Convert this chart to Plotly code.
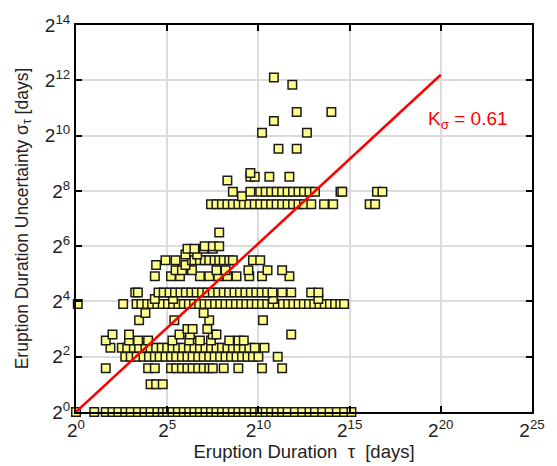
import plotly.graph_objects as go
import math

# ---- data (tau = eruption duration [days], sigma = uncertainty [days]) ----
row_sigma = [1, 2, 3, 4, 5, 6, 7, 8, 10, 12, 15, 17, 20, 30, 35, 40, 45, 52, 60, 64, 90,
             183, 223, 250, 331, 364, 401, 734, 1097, 1479, 1845, 3665, 4390]

tau_rows = [
    [1, 2, 3.1, 4, 5, 6.5, 8, 10.5, 13.5, 17, 22, 27, 32, 39, 48, 60, 74, 90, 111, 137, 169, 208,
     256, 315, 388, 478, 588, 724, 891, 1097, 1351, 1663, 2048, 2521, 3104, 4096, 5405, 7131,
     8780, 11585, 15287, 20171, 26616, 35120],
    [17, 21, 27],
    [3.1, 15.5, 20, 37, 45, 56, 69, 84, 104, 128, 158, 181, 274, 478, 1176, 2521],
    [6.5, 8, 10, 13, 16, 20, 24, 30, 37, 45, 56, 69, 84, 104, 128, 158, 194, 239, 294, 362, 446,
     549, 676, 832, 1024, 2135],
    [3.7, 5.7, 7, 9, 11, 14, 17, 21, 26, 32, 39, 48, 59, 73, 90, 111, 137, 169, 208, 256, 315,
     388, 478, 588, 724, 891, 1290],
    [3.1, 7.5, 10.6, 15.5, 39, 74, 111, 169, 338, 480, 588],
    [4, 7.5, 51, 76, 181, 208, 3565],
    [69, 84, 147],
    [11, 42, 158, 1218],
    [14, 128],
    [1.07, 6, 10, 12, 15, 18, 22, 27, 33, 40, 49, 60, 73, 89, 108, 132, 161, 197, 240, 293, 357,
     436, 531, 648, 790, 963, 1175, 1433, 1748, 2131, 2600, 3170, 3867, 4716, 5751, 7014, 8554,
     10432, 12722, 15516, 18922, 23000, 26600],
    [20, 40, 1780, 10000],
    [9.5, 10.5, 23, 28, 35, 43, 53, 65, 80, 98, 120, 147, 181, 222, 274, 336, 413, 508, 624, 768,
     943, 1159, 1425, 1750, 2520, 3565, 7600, 10000],
    [20, 37, 52, 111, 158, 223, 315, 446, 724, 1176, 3327],
    [44, 56, 82, 208, 294, 700, 1448, 2521],
    [21, 64],
    [30, 44, 82, 90, 111, 133, 158, 194, 231, 274, 338, 388, 832, 1097],
    [64, 100],
    [69, 90, 128, 181],
    [133, 181, 231],
    [231],
    [169, 208, 256, 315, 388, 478, 588, 724, 891, 1097, 1351, 1663, 2048, 2521, 3104, 3822,
     4705, 5793, 7643, 12417, 17560, 70240, 86475],
    [549],
    [388, 755, 1097, 1351, 1663, 2048, 2521, 3104, 3822, 4705, 5793, 7131, 8780, 23170, 24834,
     92682, 114104],
    [315],
    [755, 891, 1552, 3327],
    [755],
    [2195, 4390],
    [1176, 6472],
    [1845],
    [4390, 16384],
    [3717],
    [1845],
]

K_sigma = 0.61
fit_tau = [1, 1048576]

x_tick_exp = [0, 5, 10, 15, 20, 25]
y_tick_exp = [0, 2, 4, 6, 8, 10, 12, 14]

# ---- build ----
tau = []
sigma = []
for s, row in zip(row_sigma, tau_rows):
    tau.extend(row)
    sigma.extend([s] * len(row))

fit_sigma = [t ** K_sigma for t in fit_tau]

FONT = "Liberation Sans, Arial"

fig = go.Figure()
fig.add_trace(go.Scatter(
    x=tau, y=sigma, mode="markers", cliponaxis=False,
    marker=dict(symbol="square", size=8.5, color="#ffff88",
                line=dict(color="#1a1a1a", width=1.5)),
    showlegend=False))
fig.add_trace(go.Scatter(
    x=fit_tau, y=fit_sigma, mode="lines", cliponaxis=False,
    line=dict(color="#ff0000", width=2.5), showlegend=False))

fig.add_annotation(
    x=math.log10(2 ** 19.2), y=math.log10(2 ** 10.55), xref="x", yref="y",
    text="K<sub>σ</sub> = 0.61", showarrow=False, xanchor="left", yanchor="middle",
    font=dict(color="#ff0000", size=19, family=FONT))

axis_common = dict(
    type="log", showgrid=True, gridcolor="#dcdcdc", gridwidth=1.5,
    showline=True, linecolor="black", linewidth=2, mirror="ticks",
    ticks="inside", ticklen=6, tickwidth=2, tickcolor="black",
    zeroline=False, tickfont=dict(size=19, color="#222", family=FONT),
)

fig.update_xaxes(
    **axis_common,
    range=[0, 25 * math.log10(2)],
    tickmode="array",
    tickvals=[2 ** e for e in x_tick_exp],
    ticktext=[f"2<sup>{e}</sup>" for e in x_tick_exp],
    title=dict(text="Eruption Duration\u00a0\u00a0τ\u00a0\u00a0[days]", standoff=0,
               font=dict(size=18.5, color="#222", family=FONT)),
)
fig.update_yaxes(
    **axis_common,
    range=[0, 14 * math.log10(2)],
    tickmode="array",
    tickvals=[2 ** e for e in y_tick_exp],
    ticktext=[f"2<sup>{e}</sup>" for e in y_tick_exp],
    title=dict(text="Eruption Duration Uncertainty σ<sub>τ</sub> [days]", standoff=12,
               font=dict(size=17.5, color="#222", family=FONT)),
)

fig.update_layout(
    width=557, height=466,
    margin=dict(l=76, r=13, t=20, b=51),
    paper_bgcolor="white", plot_bgcolor="white",
)

fig.write_html("out.html")
